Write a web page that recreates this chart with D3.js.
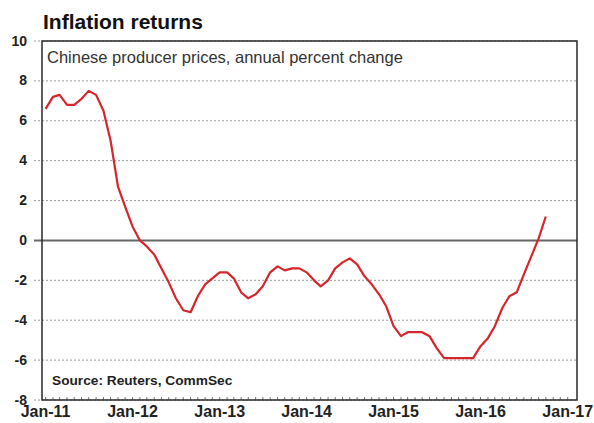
<!DOCTYPE html>
<html>
<head>
<meta charset="utf-8">
<script src="https://cdn.jsdelivr.net/npm/d3@7"></script>
<style>
  html, body { margin: 0; padding: 0; background: #fff; }
  svg { display: block; font-family: "Liberation Sans", Arial, sans-serif; }
</style>
</head>
<body>
<svg id="chart" width="594" height="423"></svg>
<script>
// China producer price index, annual % change, monthly from Jan 2011
const startMonth = "2011-01";
const ppiValues = [
  6.6, 7.2, 7.3, 6.8, 6.8, 7.1, 7.5, 7.3, 6.5, 5.0, 2.7, 1.7,
  0.7, 0.0, -0.3, -0.7, -1.4, -2.1, -2.9, -3.5, -3.6, -2.8, -2.2, -1.9,
  -1.6, -1.6, -1.9, -2.6, -2.9, -2.7, -2.3, -1.6, -1.3, -1.5, -1.4, -1.4,
  -1.6, -2.0, -2.3, -2.0, -1.4, -1.1, -0.9, -1.2, -1.8, -2.2, -2.7, -3.3,
  -4.3, -4.8, -4.6, -4.6, -4.6, -4.8, -5.4, -5.9, -5.9, -5.9, -5.9, -5.9,
  -5.3, -4.9, -4.3, -3.4, -2.8, -2.6, -1.7, -0.8, 0.1, 1.2
];
const yTicks = [-8, -6, -4, -2, 0, 2, 4, 6, 8, 10];
const xTickYears = [2011, 2012, 2013, 2014, 2015, 2016, 2017];

const titleText = "Inflation returns";
const subtitleText = "Chinese producer prices, annual percent change";
const sourceText = "Source: Reuters, CommSec";

const parseMonth = d3.timeParse("%Y-%m");
const t0 = parseMonth(startMonth);
const series = ppiValues.map((v, i) => ({ date: d3.timeMonth.offset(t0, i), value: v }));

const svg = d3.select("#chart");
const plot = { left: 42, right: 577, top: 41, bottom: 400 };

const x = d3.scaleTime()
  .domain([new Date(2010, 11, 17), new Date(2017, 1, 9)])
  .range([plot.left, plot.right]);
const y = d3.scaleLinear().domain([-8, 10]).range([plot.bottom, plot.top]);

// Title
svg.append("text")
  .attr("x", 43).attr("y", 29)
  .attr("font-size", 21).attr("font-weight", "bold").attr("fill", "#111")
  .text(titleText);

// Dotted gridlines (extend a little left of the frame as tick marks)
svg.append("g").selectAll("line")
  .data(yTicks.filter(d => d !== 0))
  .join("line")
  .attr("x1", 34).attr("x2", plot.right)
  .attr("y1", d => y(d)).attr("y2", d => y(d))
  .attr("stroke", "#9a9a9a").attr("stroke-width", 1)
  .attr("stroke-dasharray", "2,2");

// Zero line
svg.append("line")
  .attr("x1", 34).attr("x2", plot.right)
  .attr("y1", y(0)).attr("y2", y(0))
  .attr("stroke", "#666").attr("stroke-width", 2);

// Y axis labels
svg.append("g").selectAll("text")
  .data(yTicks)
  .join("text")
  .attr("x", 27).attr("y", d => y(d) + 4.5)
  .attr("text-anchor", "end")
  .attr("font-size", 14).attr("font-weight", "bold").attr("fill", "#222")
  .text(d => d);

// Monthly minor ticks along the bottom
const monthTicks = d3.timeMonth.range(new Date(2011, 0, 1), new Date(2017, 1, 1));
svg.append("g").selectAll("line")
  .data(monthTicks)
  .join("line")
  .attr("x1", d => x(d)).attr("x2", d => x(d))
  .attr("y1", plot.bottom).attr("y2", plot.bottom - 3)
  .attr("stroke", "#777").attr("stroke-width", 1);

// X axis labels
svg.append("g").selectAll("text")
  .data(xTickYears)
  .join("text")
  .attr("x", d => x(new Date(d, 0, 1)))
  .attr("y", 416.5)
  .attr("text-anchor", "middle")
  .attr("font-size", 16).attr("font-weight", "bold").attr("fill", "#222")
  .text(d => "Jan-" + String(d).slice(2));

// Plot frame
svg.append("rect")
  .attr("x", plot.left).attr("y", plot.top)
  .attr("width", plot.right - plot.left).attr("height", plot.bottom - plot.top)
  .attr("fill", "none").attr("stroke", "#2a2a2a").attr("stroke-width", 1.5);

// Subtitle and source
svg.append("text")
  .attr("x", 47).attr("y", 63)
  .attr("font-size", 16.5).attr("fill", "#333")
  .text(subtitleText);

svg.append("text")
  .attr("x", 52).attr("y", 385)
  .attr("font-size", 13.7).attr("font-weight", "bold").attr("fill", "#222")
  .text(sourceText);

// PPI line
const line = d3.line().x(d => x(d.date)).y(d => y(d.value));
svg.append("path")
  .datum(series)
  .attr("d", line)
  .attr("fill", "none")
  .attr("stroke", "#d7262b")
  .attr("stroke-width", 2.2)
  .attr("stroke-linejoin", "round");
</script>
</body>
</html>
